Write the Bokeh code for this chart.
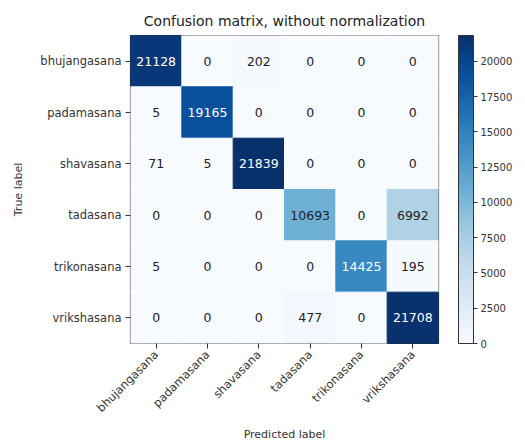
import math
from bokeh.plotting import figure
from bokeh.models import ColumnDataSource, LinearColorMapper, ColorBar, FixedTicker, FactorRange
from bokeh.palettes import Blues256
from bokeh.transform import transform
from bokeh.core.properties import value
from bokeh.embed import file_html
from bokeh.resources import INLINE

classes = ["bhujangasana", "padamasana", "shavasana", "tadasana", "trikonasana", "vrikshasana"]
row_bhujangasana = [21128, 0, 202, 0, 0, 0]
row_padamasana = [5, 19165, 0, 0, 0, 0]
row_shavasana = [71, 5, 21839, 0, 0, 0]
row_tadasana = [0, 0, 0, 10693, 0, 6992]
row_trikonasana = [5, 0, 0, 0, 14425, 195]
row_vrikshasana = [0, 0, 0, 477, 0, 21708]
matrix = [row_bhujangasana, row_padamasana, row_shavasana, row_tadasana, row_trikonasana, row_vrikshasana]
cbar_ticks = [0, 2500, 5000, 7500, 10000, 12500, 15000, 17500, 20000]

vmax = max(max(r) for r in matrix)
palette = list(reversed(Blues256))
mapper = LinearColorMapper(palette=palette, low=0, high=vmax)

xs, ys, vals, labels, tcolors = [], [], [], [], []
for i, true_c in enumerate(classes):
    for j, pred_c in enumerate(classes):
        v = matrix[i][j]
        xs.append(pred_c)
        ys.append(true_c)
        vals.append(v)
        labels.append(str(v))
        tcolors.append("white" if v > vmax / 2 else "#222222")
src = ColumnDataSource(dict(x=xs, y=ys, v=vals, label=labels, tc=tcolors))

FONT = "DejaVu Sans"
p = figure(
    x_range=FactorRange(*classes), y_range=FactorRange(*reversed(classes)),
    frame_width=308, frame_height=308,
    min_border_left=130, min_border_top=35, min_border_bottom=95, min_border_right=79,
    output_backend="svg", toolbar_location=None,
    title="Confusion matrix, without normalization",
)
p.rect(x="x", y="y", width=1, height=1, source=src,
       fill_color=transform("v", mapper), line_color=transform("v", mapper))
p.text(x="x", y="y", text="label", source=src, text_color="tc",
       text_align="center", text_baseline="middle",
       text_font=value(FONT), text_font_size="12.5px")

p.title.align = "center"
p.title.text_font = FONT
p.title.text_font_style = "normal"
p.title.text_font_size = "14px"
p.title.text_color = "#222222"
p.title.standoff = 13

p.xgrid.grid_line_color = None
p.ygrid.grid_line_color = None
p.outline_line_color = "#333333"
p.outline_line_width = 1.2
for ax in (p.xaxis[0], p.yaxis[0]):
    ax.axis_line_color = None
    ax.major_tick_line_color = "#333333"
    ax.major_tick_out = 5
    ax.major_tick_in = 0
    ax.major_label_standoff = 4
    ax.major_label_text_font = FONT
    ax.major_label_text_font_size = "11.5px"
    ax.major_label_text_color = "#333333"
    ax.axis_label_text_font = FONT
    ax.axis_label_text_font_style = "normal"
    ax.axis_label_text_font_size = "11px"
    ax.axis_label_text_color = "#333333"
p.xaxis.major_label_orientation = math.pi / 4
p.xaxis.major_label_standoff = 4
p.xaxis.axis_label = "Predicted label"
p.xaxis.axis_label_standoff = 5
p.yaxis.axis_label = "True label"
p.yaxis.axis_label_standoff = 12

cb = ColorBar(color_mapper=mapper, ticker=FixedTicker(ticks=cbar_ticks),
              width=15, height=308, padding=0, location=(328, 0),
              bar_line_color="#333333", major_tick_line_color="#333333",
              major_tick_in=0, major_tick_out=4,
              major_label_text_font=FONT, major_label_text_font_size="10px",
              major_label_text_color="#333333", label_standoff=3,
              background_fill_alpha=0, border_line_color=None)
p.add_layout(cb, "center")

open("out.html", "w").write(file_html(p, INLINE))
